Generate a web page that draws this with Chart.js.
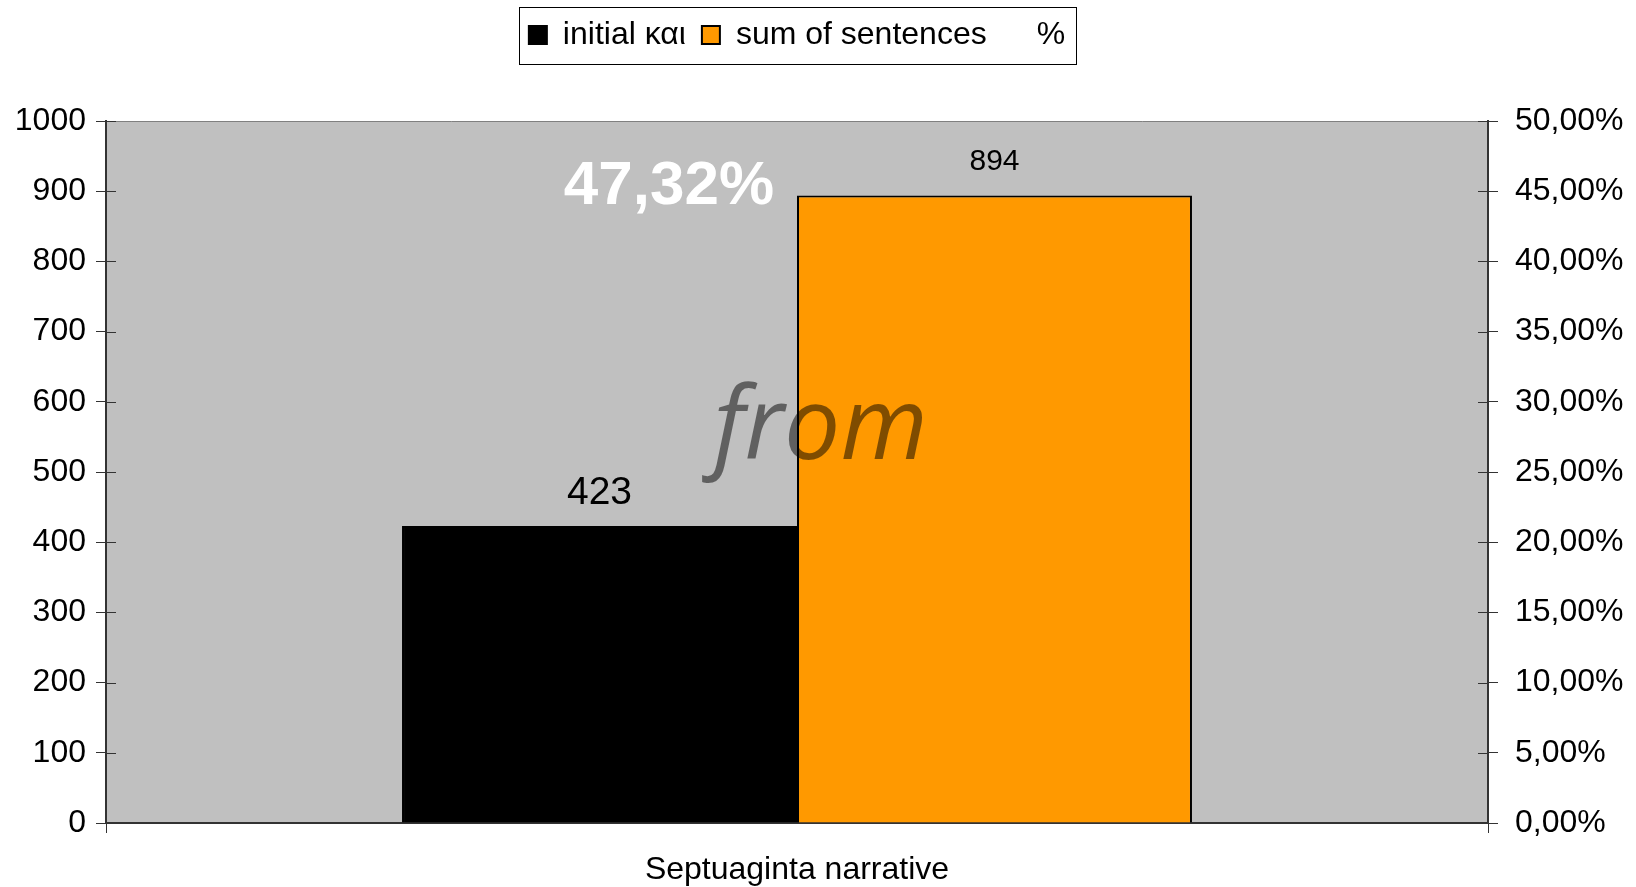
<!DOCTYPE html>
<html>
<head>
<meta charset="utf-8">
<script src="https://cdn.jsdelivr.net/npm/chart.js@4/dist/chart.umd.min.js"></script>
<style>
    html, body { margin: 0; padding: 0; background: #fff; }
</style>
</head>
<body>
<canvas id="chart" width="1636" height="887"></canvas>
<script>
// Dados do gráfico
const categories = ['Septuaginta narrative']
const seriesLabels = ['initial και', 'sum of sentences', '%']
const initialKai = [423]
const sumOfSentences = [894]
const percentOfSentences = [47.32]
const countTicks = [0, 100, 200, 300, 400, 500, 600, 700, 800, 900, 1000]
const percentTicks = [0, 5, 10, 15, 20, 25, 30, 35, 40, 45, 50]

const formatPercent = v => `${v.toFixed(2).replace('.', ',')}%`

Chart.defaults.font.family = '"Liberation Sans", Arial, sans-serif'
Chart.defaults.color = '#000'

// Estilo dos rótulos de cada série
const labelStyles = [
    { font: '39px "Liberation Sans"', color: '#000', dx: 0, dy: -22, format: v => String(v) },
    { font: '30px "Liberation Sans"', color: '#000', dx: 0, dy: -25, format: v => String(v) },
    { font: 'bold 62px "Liberation Sans"', color: '#fff', dx: -128, dy: 45, format: formatPercent }
]

// Fundo cinza da área do gráfico
const plotBackground = {
    id: 'plotBackground',
    beforeDraw(chart) {
        const { ctx, chartArea: a } = chart
        ctx.save()
        ctx.fillStyle = '#c0c0c0'
        ctx.fillRect(a.left, a.top, a.right - a.left, a.bottom - a.top)
        ctx.strokeStyle = '#808080'
        ctx.lineWidth = 1
        ctx.beginPath()
        ctx.moveTo(a.left, a.top + 0.5)
        ctx.lineTo(a.right, a.top + 0.5)
        ctx.stroke()
        ctx.restore()
    }
}

// Marcas internas dos eixos (o tick atravessa o eixo)
const innerTicks = {
    id: 'innerTicks',
    afterDraw(chart) {
        const { ctx, chartArea: a } = chart
        ctx.save()
        ctx.strokeStyle = '#333'
        ctx.lineWidth = 1
        chart.scales.y.ticks.forEach(t => {
            const y = Math.round(chart.scales.y.getPixelForValue(t.value)) + 0.5
            ctx.beginPath()
            ctx.moveTo(a.left, y)
            ctx.lineTo(a.left + 10, y)
            ctx.stroke()
        })
        chart.scales.y1.ticks.forEach(t => {
            const y = Math.round(chart.scales.y1.getPixelForValue(t.value)) + 0.5
            ctx.beginPath()
            ctx.moveTo(a.right - 10, y)
            ctx.lineTo(a.right, y)
            ctx.stroke()
        })
        ctx.restore()
    }
}

// Rótulos de valores e o texto "from"
const valueLabels = {
    id: 'valueLabels',
    afterDatasetsDraw(chart) {
        const { ctx, chartArea: a } = chart
        ctx.save()
        ctx.font = 'italic 100px "Open Sans"'
        ctx.fillStyle = 'rgba(0, 0, 0, 0.5)'
        ctx.textAlign = 'center'
        ctx.textBaseline = 'alphabetic'
        ctx.fillText('from', a.left + (a.right - a.left) * 0.517, a.top + (a.bottom - a.top) * 0.482)

        chart.data.datasets.forEach((ds, i) => {
            const style = labelStyles[i]
            const meta = chart.getDatasetMeta(i)
            meta.data.forEach((el, j) => {
                ctx.font = style.font
                ctx.fillStyle = style.color
                ctx.fillText(style.format(ds.data[j]), el.x + style.dx, el.y + style.dy)
            })
        })
        ctx.restore()
    }
}

// Move a legenda para o centro da área do gráfico e desenha a moldura
const legendBox = {
    id: 'legendBox',
    afterLayout(chart) {
        const lg = chart.legend
        const a = chart.chartArea
        const dx = (a.left + a.right) / 2 - (lg.left + lg.right) / 2
        const dy = 3 - lg.top
        lg.left += dx
        lg.right += dx
        lg.top += dy
        lg.bottom += dy
    },
    afterDraw(chart) {
        const boxes = chart.legend.legendHitBoxes
        if (!boxes || !boxes.length) return
        const first = boxes[0]
        const last = boxes[boxes.length - 1]
        const cy = first.top + first.height / 2
        const ctx = chart.ctx
        ctx.save()
        ctx.strokeStyle = '#000'
        ctx.lineWidth = 1
        ctx.strokeRect(Math.round(first.left - 10) + 0.5, Math.round(cy - 28) + 0.5,
            Math.round(last.left + last.width + 11 - first.left + 10), 57)
        ctx.restore()
    }
}

new Chart(document.getElementById('chart'), {
    type: 'bar',
    data: {
        labels: categories,
        datasets: [
            {
                label: seriesLabels[0],
                data: initialKai,
                backgroundColor: '#000000',
                borderColor: '#000000',
                borderWidth: 2,
                barPercentage: 1,
                categoryPercentage: 0.5716,
                yAxisID: 'y'
            },
            {
                label: seriesLabels[1],
                data: sumOfSentences,
                backgroundColor: '#ff9900',
                borderColor: '#000000',
                borderWidth: 2,
                barPercentage: 1,
                categoryPercentage: 0.5716,
                yAxisID: 'y'
            },
            {
                type: 'line',
                label: seriesLabels[2],
                data: percentOfSentences,
                backgroundColor: 'rgba(0,0,0,0)',
                borderColor: 'rgba(0,0,0,0)',
                borderWidth: 0,
                showLine: false,
                pointRadius: 0,
                yAxisID: 'y1'
            }
        ]
    },
    options: {
        responsive: false,
        animation: false,
        devicePixelRatio: 1,
        layout: {
            padding: { top: 63, left: 0, right: 0, bottom: 0 }
        },
        plugins: {
            legend: {
                position: 'top',
                labels: {
                    boxWidth: 18,
                    boxHeight: 18,
                    padding: 16,
                    color: '#000',
                    font: { size: 32 }
                }
            },
            tooltip: { enabled: false }
        },
        scales: {
            x: {
                grid: { drawOnChartArea: false, color: '#333', tickLength: 10 },
                border: { color: '#333', width: 2 },
                ticks: { font: { size: 32 }, color: '#000', padding: 18 },
                afterFit: scale => { scale.height = 64 }
            },
            y: {
                position: 'left',
                min: countTicks[0],
                max: countTicks[countTicks.length - 1],
                ticks: {
                    stepSize: countTicks[1] - countTicks[0],
                    font: { size: 32 },
                    color: '#000',
                    padding: 10,
                    callback: value => String(value)
                },
                grid: { drawOnChartArea: false, color: '#333', tickLength: 10 },
                border: { color: '#333', width: 2 },
                afterFit: scale => { scale.width = 106 }
            },
            y1: {
                position: 'right',
                min: percentTicks[0],
                max: percentTicks[percentTicks.length - 1],
                ticks: {
                    stepSize: percentTicks[1] - percentTicks[0],
                    font: { size: 32 },
                    color: '#000',
                    padding: 17,
                    callback: value => formatPercent(value)
                },
                grid: { drawOnChartArea: false, color: '#333', tickLength: 10 },
                border: { color: '#333', width: 2 },
                afterFit: scale => { scale.width = 148 }
            }
        }
    },
    plugins: [plotBackground, innerTicks, valueLabels, legendBox]
})
</script>
</body>
</html>
